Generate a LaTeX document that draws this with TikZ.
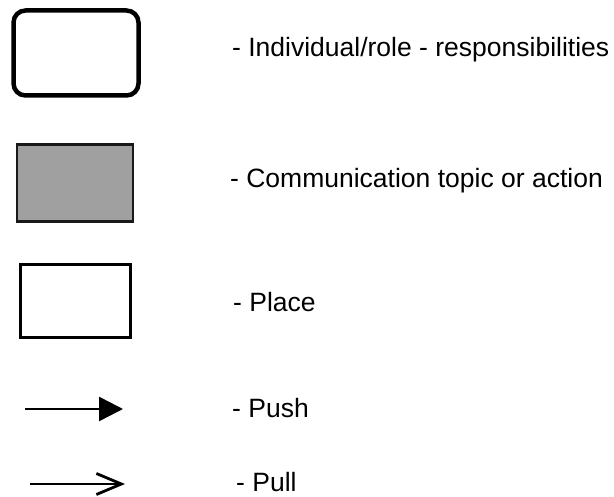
\documentclass[tikz,border=0pt]{standalone}
\usepackage{fontspec}
\setmainfont{Liberation Sans}
\usetikzlibrary{arrows.meta}
\begin{document}
\begin{tikzpicture}[x=1pt,y=-1pt,
  legendtext/.style={anchor=base west,inner sep=0pt,font=\fontsize{26.5}{30}\selectfont},
  rolebox/.style={draw=black,line width=4.5pt,rounded corners=12pt,fill=white},
  topicbox/.style={draw=black!90,line width=2.5pt,fill={rgb,255:red,160;green,160;blue,160}},
  placebox/.style={draw=black,line width=3pt,fill=white},
  pushline/.style={line width=2.6pt,-{Triangle[length=24pt,width=24pt]}},
  pullline/.style={line width=2.8pt,-{Straight Barb[length=25pt,width=21pt]}}]
\useasboundingbox (0,0) rectangle (614,497);
% legend symbols
\draw[rolebox] (13.5,10.5) rectangle (138.5,95.5);
\draw[topicbox] (17,144.5) rectangle (133,221.5);
\draw[placebox] (20.5,264.5) rectangle (130.5,337.5);
\coordinate (pushS) at (25,409);
\coordinate (pushE) at (123,409);
\coordinate (pullS) at (30,484);
\coordinate (pullE) at (125,484);
\draw[pushline] (pushS) -- (pushE);
\draw[pullline] (pullS) -- (pullE);
% legend texts
\node[legendtext] (troles) at (232,56.5) {- Individual/role - responsibilities};
\node[legendtext] (ttopic) at (230,188) {- Communication topic or action};
\node[legendtext] (tplace) at (233,312) {- Place};
\node[legendtext] (tpush) at (232,418) {- Push};
\node[legendtext] (tpull) at (236,492) {- Pull};
\end{tikzpicture}
\end{document}
